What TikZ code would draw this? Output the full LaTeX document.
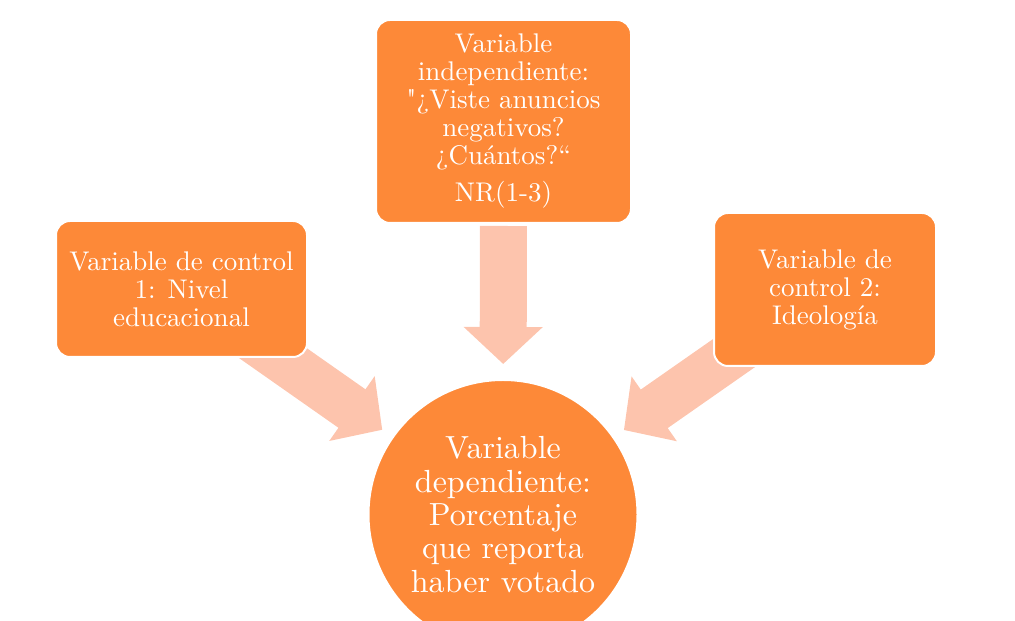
\documentclass[tikz,border=0pt]{standalone}
\usepackage{fontspec}
\setmainfont{lmroman10-regular.otf}[Ligatures=TeXOff]
\usepackage{pgf,tikz}
\usetikzlibrary{arrows.meta,backgrounds}
\definecolor{naranja}{RGB}{253,137,56}
\definecolor{salmon}{RGB}{253,196,173}

\begin{document}
\begin{tikzpicture}[x=1.0pt,y=1.0pt,
  caja/.style={draw=white,line width=2pt,fill=naranja,rounded corners=14pt,text=white,align=center,inner sep=0pt,outer sep=0pt,font=\fontsize{27}{28}\selectfont},
  bola/.style={circle,draw=white,line width=2pt,fill=naranja,text=white,align=center,inner sep=0pt,outer sep=0pt,minimum size=269pt,font=\fontsize{32}{33.3}\selectfont},
  flecha/.style={draw=salmon,line width=47pt,-{Triangle[width=77pt,length=37pt]}}]

\useasboundingbox (0,0) rectangle (1015,621);
\clip (0,0) rectangle (1015,621);

\node[caja,minimum width=255pt,minimum height=203pt] (indep) at (503.5,499.5) {Variable\\independiente:\\"¿Viste anuncios\\negativos?\\¿Cuántos?“\\[9pt]NR(1-3)};
\node[caja,minimum width=251pt,minimum height=136pt] (ctl1) at (181.5,332) {Variable de control\\1: Nivel\\educacional};
\node[caja,minimum width=222pt,minimum height=153pt] (ctl2) at (825,331.5) {Variable de\\control 2:\\Ideología};
\node[bola] (dep) at (503,106.5) {Variable\\dependiente:\\Porcentaje\\que reporta\\haber votado};

\begin{scope}[on background layer]
\draw[flecha,shorten <=3pt,shorten >=16pt] (indep) -- (dep);
\draw[flecha,shorten >=13pt] (ctl1.center) -- (dep);
\draw[flecha,shorten >=13pt] (ctl2.center) -- (dep);
\end{scope}
\end{tikzpicture}
\end{document}
